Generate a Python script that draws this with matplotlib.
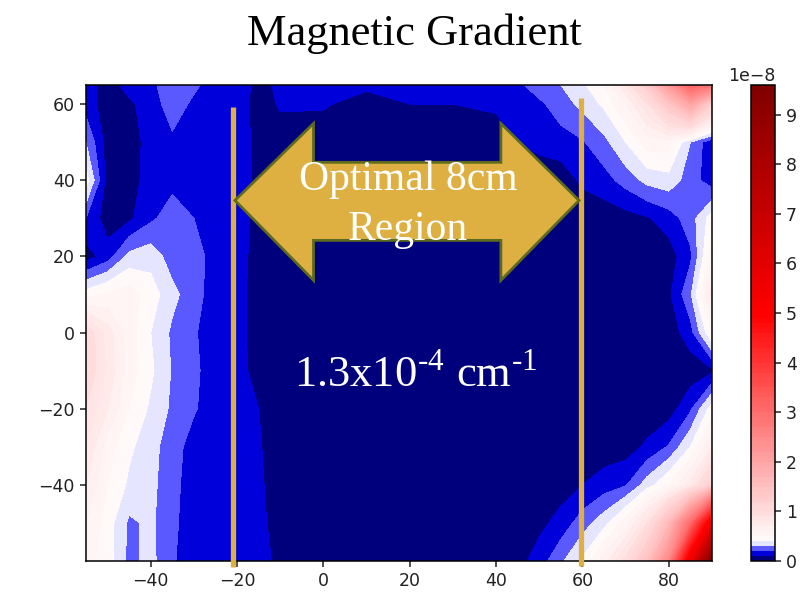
import numpy as np
import matplotlib
matplotlib.use("Agg")
import matplotlib.pyplot as plt
from matplotlib.colors import ListedColormap, BoundaryNorm, TwoSlopeNorm
from matplotlib.patches import Polygon

# ---------------- data (gradient in units of 1e-8) ----------------
x_cm = [-55, -50, -45, -40, -35, -30, -25, -20, -15, -10, 0, 10, 20, 30, 40,
        45, 50, 55, 60, 65, 70, 75, 80, 85, 90]
y_cm = [-60, -50, -40, -30, -20, -10, 0, 10, 20, 30, 40, 50, 60, 65]

g_m60 = [0.55, 0.45, 0.27, 0.33, 0.21, 0.15, 0.15, 0.14, 0.13, 0.08, 0.03, 0.03, 0.03, 0.03, 0.04,
         0.06, 0.15, 0.28, 0.42, 0.65, 0.95, 1.5, 2.5, 5.5, 9.5]
g_m50 = [0.60, 0.45, 0.28, 0.32, 0.22, 0.15, 0.15, 0.14, 0.13, 0.05, 0.03, 0.03, 0.03, 0.03, 0.03,
         0.04, 0.07, 0.14, 0.25, 0.36, 0.55, 0.9, 1.6, 3.0, 5.5]
g_m40 = [0.70, 0.50, 0.38, 0.33, 0.23, 0.15, 0.15, 0.13, 0.12, 0.04, 0.03, 0.03, 0.03, 0.03, 0.03,
         0.03, 0.04, 0.05, 0.10, 0.15, 0.19, 0.35, 0.50, 0.75, 1.2]
g_m30 = [0.80, 0.55, 0.42, 0.34, 0.24, 0.16, 0.15, 0.13, 0.11, 0.04, 0.03, 0.03, 0.03, 0.03, 0.03,
         0.03, 0.03, 0.03, 0.03, 0.04, 0.05, 0.12, 0.21, 0.40, 0.70]
g_m20 = [0.90, 0.70, 0.50, 0.38, 0.28, 0.21, 0.15, 0.13, 0.10, 0.04, 0.03, 0.03, 0.03, 0.03, 0.03,
         0.03, 0.03, 0.03, 0.03, 0.03, 0.03, 0.03, 0.05, 0.18, 0.45]
g_m10 = [1.00, 0.78, 0.55, 0.42, 0.29, 0.22, 0.15, 0.13, 0.07, 0.04, 0.03, 0.03, 0.03, 0.03, 0.03,
         0.03, 0.03, 0.03, 0.03, 0.03, 0.03, 0.03, 0.03, 0.04, 0.08]
g_p00 = [1.00, 0.75, 0.55, 0.40, 0.28, 0.21, 0.15, 0.13, 0.06, 0.04, 0.03, 0.03, 0.03, 0.03, 0.03,
         0.03, 0.03, 0.03, 0.03, 0.03, 0.03, 0.03, 0.04, 0.16, 0.50]
g_p10 = [0.45, 0.52, 0.55, 0.45, 0.33, 0.24, 0.15, 0.13, 0.06, 0.04, 0.03, 0.03, 0.03, 0.03, 0.03,
         0.03, 0.03, 0.03, 0.03, 0.03, 0.03, 0.04, 0.08, 0.28, 0.75]
g_p20 = [0.05, 0.15, 0.33, 0.36, 0.25, 0.24, 0.16, 0.13, 0.07, 0.04, 0.03, 0.03, 0.03, 0.03, 0.03,
         0.03, 0.03, 0.03, 0.03, 0.03, 0.03, 0.03, 0.05, 0.18, 0.55]
g_p30 = [0.20, 0.04, 0.08, 0.18, 0.25, 0.20, 0.15, 0.14, 0.07, 0.04, 0.03, 0.03, 0.03, 0.03, 0.03,
         0.03, 0.03, 0.03, 0.03, 0.04, 0.06, 0.09, 0.15, 0.25, 0.45]
g_p40 = [0.45, 0.05, 0.06, 0.14, 0.17, 0.15, 0.15, 0.14, 0.08, 0.04, 0.03, 0.03, 0.03, 0.03, 0.04,
         0.04, 0.04, 0.04, 0.12, 0.16, 0.24, 0.33, 0.36, 0.25, 0.14]
g_p50 = [0.30, 0.05, 0.05, 0.14, 0.18, 0.15, 0.15, 0.15, 0.07, 0.06, 0.05, 0.04, 0.04, 0.05, 0.07,
         0.10, 0.13, 0.16, 0.19, 0.27, 0.40, 0.55, 0.55, 0.30, 0.12]
g_p60 = [0.15, 0.05, 0.08, 0.15, 0.25, 0.18, 0.15, 0.15, 0.06, 0.11, 0.11, 0.06, 0.10, 0.10, 0.11,
         0.13, 0.18, 0.25, 0.33, 0.42, 0.60, 0.90, 1.40, 2.00, 1.20]
g_p65 = [0.15, 0.05, 0.14, 0.18, 0.25, 0.22, 0.15, 0.15, 0.07, 0.12, 0.13, 0.12, 0.13, 0.13, 0.15,
         0.18, 0.25, 0.30, 0.38, 0.50, 0.80, 1.30, 2.20, 3.20, 2.80]

scale = 1e-8
level_top = 9.6          # colorbar top (x1e-8)
white_value = 0.37       # value drawn as white (x1e-8)
cbar_ticks = [0, 1, 2, 3, 4, 5, 6, 7, 8, 9]

region_edges = [-21.0, 59.6]   # "Optimal 8cm" region boundaries (cm)

# ---------------- build field ----------------
rows = [g_m60, g_m50, g_m40, g_m30, g_m20, g_m10, g_p00, g_p10, g_p20,
        g_p30, g_p40, g_p50, g_p60, g_p65]
Z = np.array(rows) * scale
X, Y = np.meshgrid(x_cm, y_cm)

levels = np.linspace(0, level_top, 97) * scale
mids = 0.5 * (levels[:-1] + levels[1:])
tsn = TwoSlopeNorm(vmin=0, vcenter=white_value * scale, vmax=level_top * scale)
band_colors = plt.get_cmap("seismic")(tsn(mids))
cmap = ListedColormap(band_colors)
norm = BoundaryNorm(levels, cmap.N)

# ---------------- figure ----------------
plt.rcParams["font.family"] = ["DejaVu Sans"]
plt.rcParams["mathtext.fontset"] = "stix"
W, H = 805, 602
fig = plt.figure(figsize=(W / 100, H / 100), dpi=100)

ax_l, ax_r, ax_t, ax_b = 86, 712, 85, 561
ax = fig.add_axes([ax_l / W, 1 - ax_b / H, (ax_r - ax_l) / W, (ax_b - ax_t) / H])
cax = fig.add_axes([751 / W, 1 - ax_b / H, 24 / W, (ax_b - ax_t) / H])

cs = ax.contourf(X, Y, Z, levels=levels, cmap=cmap, norm=norm, antialiased=False)
ax.set_xlim(-55, 90)
ax.set_ylim(-60, 65)
ax.set_xticks([-40, -20, 0, 20, 40, 60, 80])
ax.set_yticks([-40, -20, 0, 20, 40, 60])
ax.tick_params(labelsize=12.5, length=4.5, width=1.1, colors="#222222")
for s in ax.spines.values():
    s.set_linewidth(1.1)

cb = fig.colorbar(cs, cax=cax)
cb.set_ticks([t * scale for t in cbar_ticks])
cb.ax.minorticks_off()
cb.ax.yaxis.set_minor_locator(matplotlib.ticker.NullLocator())
cb.ax.tick_params(labelsize=12.5, length=4.5, width=1.1, colors="#222222")
cb.ax.yaxis.get_offset_text().set_fontsize(12.5)
cb.outline.set_linewidth(1.1)

# ---------------- overlays ----------------
gold = "#DEB041"
olive = "#5E6B1F"
serif = ["Liberation Serif", "DejaVu Serif"]

xl, xr = region_edges
ax.plot([xl, xl], [59.3, -61.6], color=gold, lw=3.8, clip_on=False, zorder=5,
        solid_capstyle="butt")
ax.plot([xr, xr], [61.5, -61.2], color=gold, lw=3.8, clip_on=False, zorder=5,
        solid_capstyle="butt")

tipL, tipR = xl + 0.5, xr - 0.4
hbL, hbR = -2.3, 41.1
cy, htop, hbot, stop, sbot = 34.7, 54.9, 13.7, 44.7, 24.2
arrow_pts = [(tipL, cy), (hbL, htop), (hbL, stop), (hbR, stop), (hbR, htop),
             (tipR, cy), (hbR, hbot), (hbR, sbot), (hbL, sbot), (hbL, hbot)]
ax.add_patch(Polygon(arrow_pts, closed=True, facecolor=gold, edgecolor=olive,
                     lw=2.0, zorder=6, joinstyle="miter"))

ax.text(19.6, 37.3, "Optimal 8cm", color="white", fontsize=30, family=serif,
        ha="center", va="baseline", zorder=7)
ax.text(19.6, 24.2, "Region", color="white", fontsize=30, family=serif,
        ha="center", va="baseline", zorder=7)

ax.text(21.3, -14.2, "1.3x10$^{\\mathregular{\u20104}}$ cm$^{\\mathregular{\u20101}}$",
        color="white", fontsize=32, family=serif, ha="center", va="baseline", zorder=7)

fig.text(414 / W, 1 - 45 / H, "Magnetic Gradient", fontsize=32, family=serif,
         ha="center", va="baseline", color="black")

fig.savefig("out.png", dpi=100)
